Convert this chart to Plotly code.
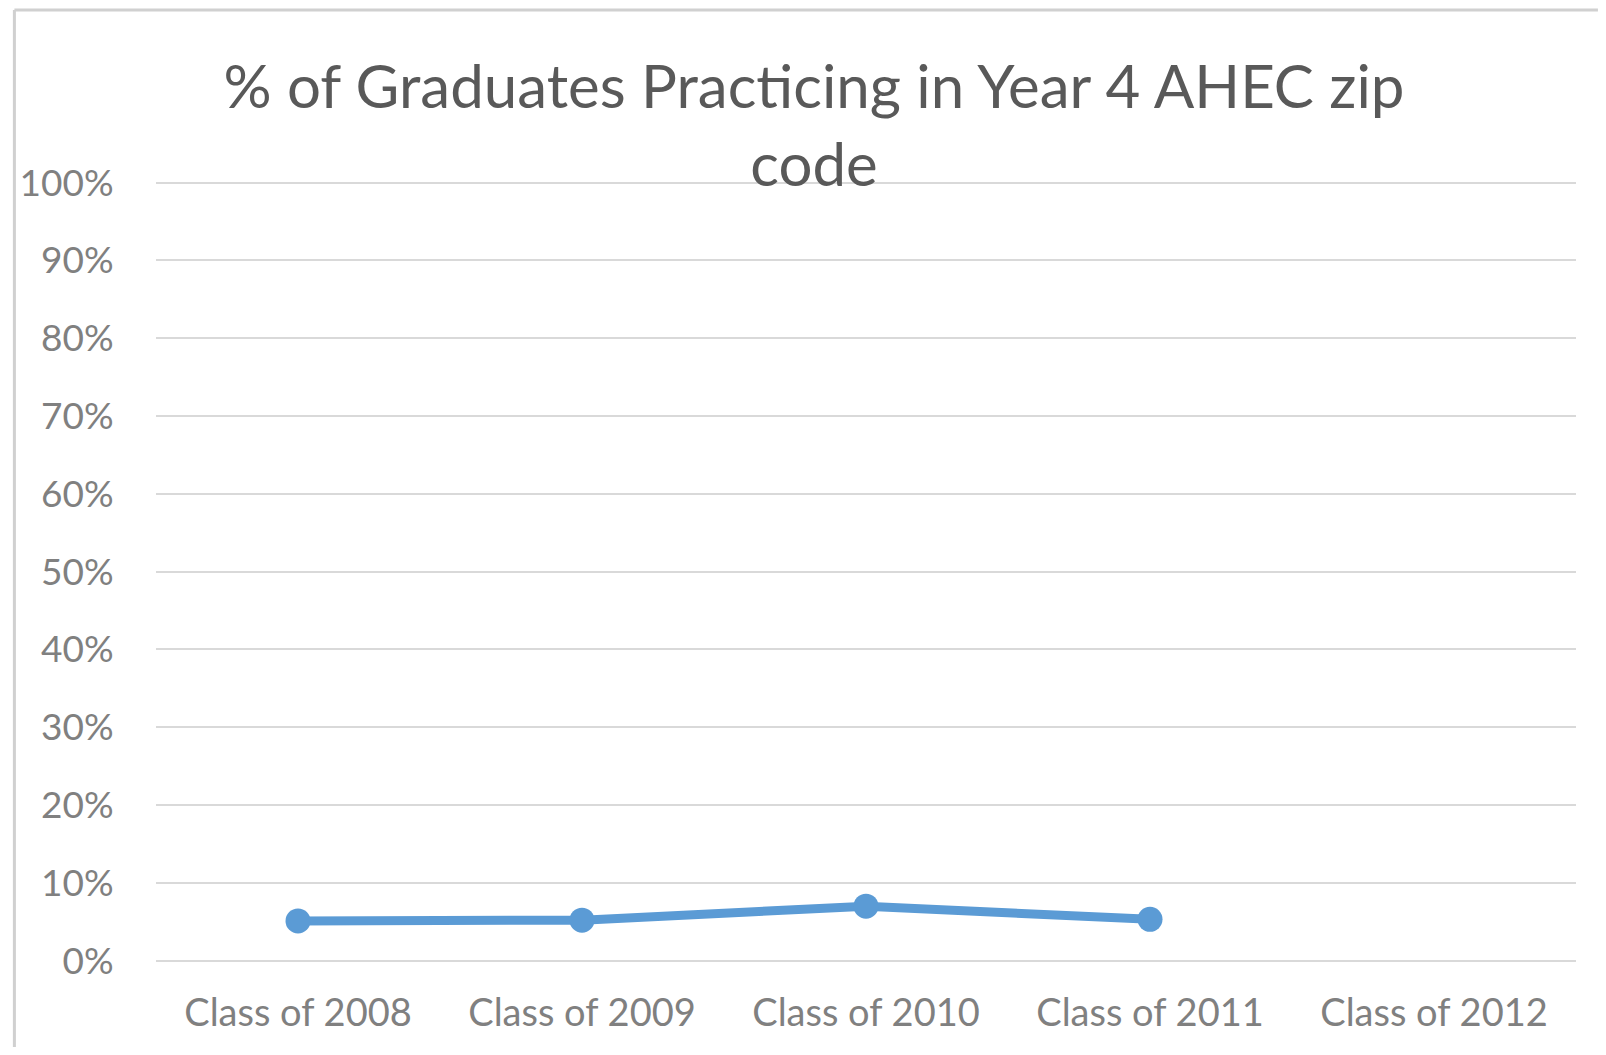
import plotly.graph_objects as go

categories = ["Class of 2008", "Class of 2009", "Class of 2010", "Class of 2011", "Class of 2012"]
values = [0.051, 0.052, 0.070, 0.053, None]
y_ticks = [0, 0.1, 0.2, 0.3, 0.4, 0.5, 0.6, 0.7, 0.8, 0.9, 1.0]
y_tick_labels = ["0%", "10%", "20%", "30%", "40%", "50%", "60%", "70%", "80%", "90%", "100%"]
title_text = "% of Graduates Practicing in Year 4 AHEC zip<br>code"

# page body has an 8px margin on every side, so the figure is drawn 16px smaller
W, H = 1590, 1039
FONT = "Lato, 'Open Sans', sans-serif"
L, R, T, B = 144, 22, 173, 86
PW, PH = W - L - R, H - T - B

fx0 = (2 - L) / PW          # left frame edge (paper units)
fx1 = (W - L) / PW          # right edge of figure
fy_top = (H - B - 2) / PH   # top frame edge
fy_bot = -B / PH            # bottom of figure

fig = go.Figure()
fig.add_trace(go.Scatter(
    x=categories, y=values, mode="lines+markers",
    line=dict(color="#5B9BD5", width=9),
    marker=dict(color="#5B9BD5", size=25),
    connectgaps=False, showlegend=False,
))

fig.update_layout(
    width=W, height=H,
    paper_bgcolor="white", plot_bgcolor="white",
    margin=dict(l=L, r=R, t=T, b=B),
    title=dict(text=title_text, x=806 / W, xanchor="center", xref="container",
               y=1 - 100 / H, yanchor="middle", yref="container",
               font=dict(family=FONT, size=60, color="#595959")),
    xaxis=dict(type="category", range=[-0.5, 4.5], showgrid=False, showline=False,
               zeroline=False, ticks="outside", ticklen=18, tickcolor="rgba(0,0,0,0)",
               tickfont=dict(family=FONT, size=38, color="#808080")),
    yaxis=dict(range=[-0.0005, 1.002], tickvals=y_ticks, ticktext=y_tick_labels,
               showgrid=True, gridcolor="#d9d9d9", gridwidth=2,
               zeroline=True, zerolinecolor="#d9d9d9", zerolinewidth=2,
               showline=False, ticks="outside", ticklen=34, tickcolor="rgba(0,0,0,0)",
               tickfont=dict(family=FONT, size=37, color="#808080")),
    shapes=[
        dict(type="line", xref="paper", yref="paper", x0=fx0, x1=fx0, y0=fy_bot, y1=fy_top,
             line=dict(color="#d0d0d0", width=3), layer="below"),
        dict(type="line", xref="paper", yref="paper", x0=fx0, x1=fx1, y0=fy_top, y1=fy_top,
             line=dict(color="#d0d0d0", width=3), layer="below"),
    ],
)

fig.write_html("out.html")
